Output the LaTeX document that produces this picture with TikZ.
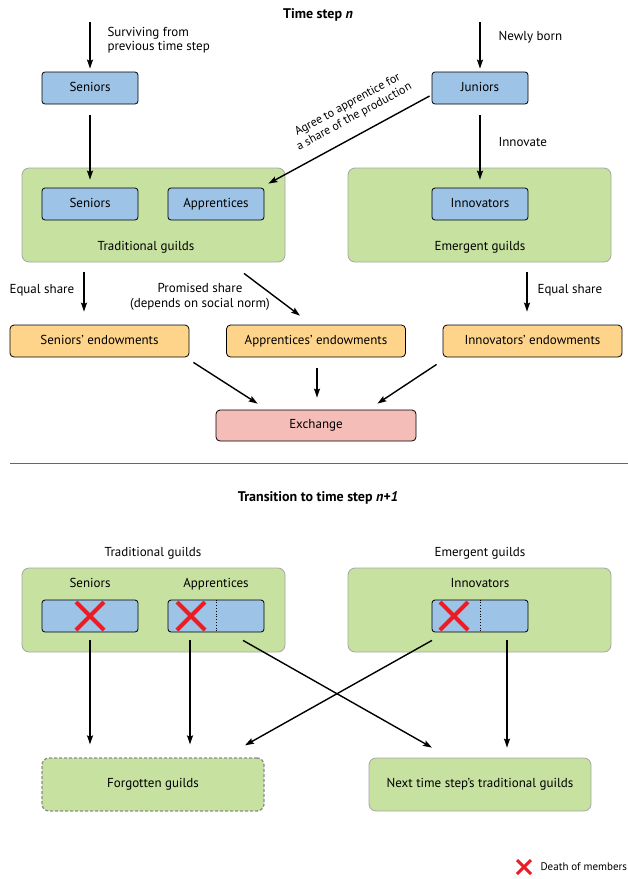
\documentclass[tikz,border=0pt]{standalone}
\usepackage{fontspec}
\setmainfont{PT Sans}
\usetikzlibrary{arrows.meta,calc}
\definecolor{boxblue}{HTML}{9DC3E6}
\definecolor{guildgreen}{HTML}{C6E1A0}
\definecolor{endoworange}{HTML}{FED48B}
\definecolor{exchpink}{HTML}{F5BDB7}
\definecolor{deathred}{HTML}{EC1C24}

\begin{document}
\begin{tikzpicture}[x=1pt,y=-1pt,
   every node/.style={font=\fontsize{13}{14.5}\selectfont},
   heading/.style={font=\fontsize{14}{16}\selectfont\bfseries},
   boxtext/.style={text height=1.45ex,text depth=0.15ex},
   member/.style={boxtext,draw,rounded corners=3pt,fill=boxblue,line width=0.8pt,
      minimum width=96pt,minimum height=32pt,inner sep=0pt},
   guild/.style={draw=black!35,rounded corners=7pt,fill=guildgreen,line width=0.8pt,
      minimum width=263pt,minimum height=94pt,inner sep=0pt},
   endow/.style={boxtext,draw,rounded corners=4pt,fill=endoworange,line width=0.8pt,
      minimum width=179pt,minimum height=32pt,inner sep=0pt},
   exch/.style={boxtext,draw,rounded corners=4pt,fill=exchpink,line width=0.8pt,
      minimum width=200pt,minimum height=31pt,inner sep=0pt},
   forgot/.style={boxtext,draw=black!45,dashed,dash pattern=on 3pt off 2pt,line width=1.3pt,
      rounded corners=7pt,fill=guildgreen,minimum width=222pt,minimum height=53pt},
   nextguild/.style={boxtext,draw=black!35,rounded corners=7pt,fill=guildgreen,line width=0.8pt,
      minimum width=222pt,minimum height=53pt},
   arr/.style={-{Stealth[length=9pt,width=6pt,inset=1.5pt]},line width=1.4pt},
   death/.style={deathred,line width=4pt},
   sep/.style={black!60,line width=0.8pt}
]
   \useasboundingbox (0,0) rectangle (628,879);

   % time step n
   \node[heading] (title1) at (318,15) {Time step \textit{n}};
   \coordinate (senin) at (90,22);
   \coordinate (junin) at (480,22);
   \node[member] (sen0) at (90,88) {Seniors};
   \node[member] (jun0) at (480,88) {Juniors};
   \draw[arr,shorten >=3pt] (senin) -- (sen0);
   \draw[arr,shorten >=3pt] (junin) -- (jun0);
   \node[anchor=west,align=left] (survive) at (104,40) {Surviving from\\previous time step};
   \node[anchor=west] (born) at (495,37) {Newly born};

   \node[guild] (tradg) at (153.5,215) {};
   \node[guild] (emerg) at (479.5,215) {};
   \node[member] (sen1) at (90,204) {Seniors};
   \node[member] (app1) at (216,204) {Apprentices};
   \node[member] (inn1) at (480,204) {Innovators};
   \node (tradlbl) at (146,247) {Traditional guilds};
   \node (emerlbl) at (480,247) {Emergent guilds};

   \draw[arr,shorten <=11pt,shorten >=8pt] (sen0) -- (sen1);
   \draw[arr,shorten <=11pt,shorten >=8pt] (jun0) -- (inn1);
   \node[anchor=west] (innov) at (495,142) {Innovate};
   \draw[arr] ($(jun0.west)+(-2,8)$) -- ($(tradg.north east)+(-17,16)$);
   \node[rotate=28.5,align=center,font=\fontsize{12}{13.5}\selectfont] (agree) at (351,111)
      {Agree to apprentice for\\a share of the production};

   \node[endow] (sendow) at (99.5,341) {Seniors’ endowments};
   \node[endow] (aendow) at (316,341) {Apprentices’ endowments};
   \node[endow] (iendow) at (532.5,341) {Innovators’ endowments};
   \draw[arr] ($(tradg.south)+(-69.5,10)$) -- ($(sendow.north)+(-15.5,-13)$);
   \draw[arr] ($(tradg.south)+(90.5,11)$) -- ($(aendow.north)+(-16,-9)$);
   \draw[arr] ($(emerg.south)+(47.5,10)$) -- ($(iendow.north)+(-5.5,-13)$);
   \node[anchor=west] (eqshare1) at (6,290) {Equal share};
   \node[align=center] (promise) at (200,297) {Promised share\\(depends on social norm)};
   \node[anchor=west] (eqshare2) at (534,290) {Equal share};

   \node[exch] (exch) at (316,425.5) {Exchange};
   \draw[arr] ($(sendow.south east)+(4,5)$) -- ($(exch.north west)+(42,-6)$);
   \draw[arr] ($(aendow.south)+(1,11)$) -- ($(exch.north)+(1,-12)$);
   \draw[arr] ($(iendow.south west)+(-6,7)$) -- ($(exch.north east)+(-39,-6)$);

   \draw[sep] (10,463) -- (628,463);

   % transition
   \node[heading] (title2) at (318,498) {Transition to time step \textit{n+1}};
   \node (tradlbl2) at (153,553) {Traditional guilds};
   \node (emerlbl2) at (480,553) {Emergent guilds};
   \node[guild,minimum height=84pt] (tradg2) at (153.5,610) {};
   \node[guild,minimum height=84pt] (emerg2) at (479.5,610) {};
   \node[boxtext] (senlbl) at (90,584) {Seniors};
   \node[boxtext] (applbl) at (216,584) {Apprentices};
   \node[boxtext] (innlbl) at (480,584) {Innovators};
   \node[member] (sen2) at (90,616) {};
   \node[member] (app2) at (216,616) {};
   \node[member] (inn2) at (480,616) {};
   \draw[dotted,line width=0.8pt] (app2.north) -- (app2.south);
   \draw[dotted,line width=0.8pt] (inn2.north) -- (inn2.south);
   \foreach \cx in {90,191,454} {
      \draw[death] (\cx-14,602) -- (\cx+14,630) (\cx-14,630) -- (\cx+14,602);
   }

   \node[forgot] (forg) at (153,784.5) {Forgotten guilds};
   \node[nextguild] (nextg) at (480,784.5) {Next time step’s traditional guilds};
   \draw[arr] ($(sen2.south)+(0,8)$) -- ($(forg.north)+(-63,-13)$);
   \draw[arr] ($(app2.south)+(-26,8)$) -- ($(forg.north)+(37,-13)$);
   \draw[arr] ($(app2.south)+(27,8)$) -- ($(nextg.north)+(-48,-10)$);
   \draw[arr] ($(inn2.south)+(-48,8)$) -- ($(forg.north)+(92,-12)$);
   \draw[arr] ($(inn2.south)+(27,8)$) -- ($(nextg.north)+(27,-10)$);

   % legend
   \draw[death,line width=3pt] (517,860) -- (531,874) (517,874) -- (531,860);
   \node[anchor=west,font=\fontsize{11}{12}\selectfont] (legend) at (537,867) {Death of members};
\end{tikzpicture}
\end{document}
